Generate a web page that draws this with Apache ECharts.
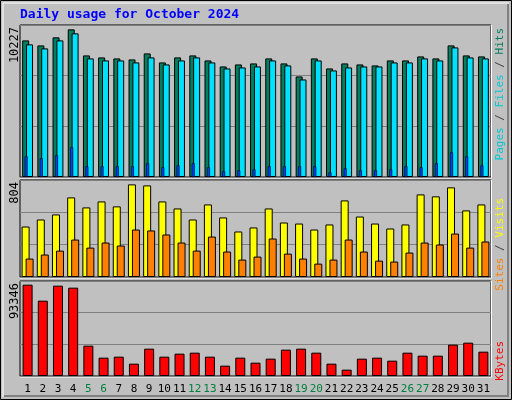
<!DOCTYPE html>
<html>
<head>
<meta charset="utf-8">
<script src="https://cdn.jsdelivr.net/npm/echarts@6/dist/echarts.min.js"></script>
<style>html,body{margin:0;padding:0;background:#c0c0c0}#chart{width:512px;height:400px}</style>
</head>
<body>
<div id="chart"></div>
<script>
const days = ['1','2','3','4','5','6','7','8','9','10','11','12','13','14','15','16','17','18','19','20','21','22','23','24','25','26','27','28','29','30','31'];
const weekendDays = ['5','6','12','13','19','20','26','27'];
const hits = [9464,9117,9673,10227,8423,8284,8215,8145,8562,7937,8284,8423,8076,7659,7798,7868,8215,7868,6965,8215,7520,7868,7798,7729,8076,8076,8354,8215,9117,8423,8354];
const files = [9187,8909,9464,9950,8215,8076,8076,7937,8284,7798,8076,8284,7937,7520,7590,7659,8076,7729,6757,8076,7382,7590,7659,7659,7937,7937,8215,8076,8978,8284,8215];
const pages = [1435,1296,1504,2059,740,740,740,740,949,671,810,949,671,393,463,532,740,740,740,740,324,602,463,463,532,740,671,949,1712,1435,810];
const visits = [438,499,543,691,604,656,613,804,795,656,595,499,630,517,395,430,595,473,464,412,456,665,525,464,421,456,717,700,778,578,630];
const sites = [160,195,229,325,255,299,273,412,404,369,299,229,351,221,151,177,334,203,160,116,151,325,221,142,134,212,299,282,377,255,308];
const kbytes = [93346,76998,92324,90280,31003,18738,19761,12606,27937,19761,22827,23849,19761,10562,18738,13628,17716,26915,27937,23849,12606,6473,17716,18738,15672,23849,20782,20782,32026,34070,24871];

const font = '"DejaVu Sans Mono", monospace';
const panels = [
  {top: 25, height: 152, max: 10530, label: '10227'},
  {top: 180, height: 97, max: 842, label: '804'},
  {top: 281, height: 95, max: 97090, label: '93346'}
];
const chart = echarts.init(document.getElementById('chart'));

const grids = panels.map(p => ({left: 20, right: 21, top: p.top, height: p.height,
  show: true, borderColor: '#000', borderWidth: 1, backgroundColor: '#c0c0c0'}));
const xAxes = [];
panels.forEach((p, i) => {
  xAxes.push({type: 'category', data: days, gridIndex: i,
    axisLine: {show: false}, axisTick: {show: false},
    axisLabel: i === 2 ? {show: true, interval: 0, fontFamily: font, fontSize: 11, margin: 8,
      color: v => weekendDays.includes(v) ? '#008040' : '#000'} : {show: false}});
});
// extra category axis for the narrow pages bars
xAxes.push({type: 'category', data: days, gridIndex: 0, show: false});
const yAxes = panels.map((p, i) => ({type: 'value', gridIndex: i, min: 0, max: p.max,
  interval: p.max / 3, axisLabel: {show: false}, axisLine: {show: false}, axisTick: {show: false},
  splitLine: {show: true, lineStyle: {color: '#808080', width: 1}}}));

const bordered = c => ({color: c, borderColor: '#000', borderWidth: 1});
const series = [
  {type: 'bar', name: 'Hits', data: hits, xAxisIndex: 0, yAxisIndex: 0, barWidth: 7, barGap: '-45%', itemStyle: bordered('#008060'), z: 2},
  {type: 'bar', name: 'Files', data: files, xAxisIndex: 0, yAxisIndex: 0, barWidth: 7, itemStyle: bordered('#00e0ff'), z: 3},
  {type: 'bar', name: 'Pages', data: pages, xAxisIndex: 3, yAxisIndex: 0, barWidth: 3, barGap: '0%', itemStyle: {color: '#0040ff', borderColor: '#000', borderWidth: 0.6}, z: 10},
  {type: 'bar', name: 'pad', data: pages.map(() => 0), xAxisIndex: 3, yAxisIndex: 0, barWidth: 3, itemStyle: {color: 'transparent'}, silent: true},
  {type: 'bar', name: 'Visits', data: visits, xAxisIndex: 1, yAxisIndex: 1, barWidth: 8, barGap: '-50%', itemStyle: bordered('#ffff00'), z: 2},
  {type: 'bar', name: 'Sites', data: sites, xAxisIndex: 1, yAxisIndex: 1, barWidth: 8, itemStyle: bordered('#ff8000'), z: 3},
  {type: 'bar', name: 'KBytes', data: kbytes, xAxisIndex: 2, yAxisIndex: 2, barWidth: 10, itemStyle: bordered('#ff0000')}
];

const sideLabel = (x, y, rich, text) => ({type: 'text', x: x, y: y, rotation: Math.PI / 2,
  style: {text: text, rich: rich, font: '11px ' + font, align: 'right', verticalAlign: 'middle'}});
const rich = {
  c: {fill: '#00c8d8', font: '11px ' + font}, s: {fill: '#404040', font: '11px ' + font},
  g: {fill: '#008060', font: '11px ' + font}, o: {fill: '#ff8000', font: '11px ' + font},
  y: {fill: '#ffff00', font: '11px ' + font}, r: {fill: '#ff0000', font: '11px ' + font}
};
const graphic = [
  {type: 'rect', shape: {x: 0.5, y: 0.5, width: 511, height: 399}, style: {fill: 'none', stroke: '#000', lineWidth: 1}, z: -10},
  {type: 'polyline', shape: {points: [[3, 397], [3, 3], [509, 3]]}, style: {stroke: '#fff', lineWidth: 1, fill: 'none'}},
  {type: 'polyline', shape: {points: [[4, 396], [508, 396], [508, 4]]}, style: {stroke: '#808080', lineWidth: 2, fill: 'none'}},
  {type: 'text', x: 20, y: 8, style: {text: 'Daily usage for October 2024', fill: '#0000ff', font: 'bold 13px ' + font}},
  sideLabel(500, 28, rich, '{c|Pages} {s|/} {c|Files} {s|/} {g|Hits}'),
  sideLabel(500, 198, rich, '{o|Sites} {s|/} {y|Visits}'),
  sideLabel(500, 341, rich, '{r|KBytes}')
];
panels.forEach(p => {
  graphic.push({type: 'text', x: 15, y: p.top + 2, rotation: Math.PI / 2,
    style: {text: p.label, fill: '#000', font: '12px ' + font, align: 'right', verticalAlign: 'middle'}});
  graphic.push({type: 'polyline', shape: {points: [[20, p.top + p.height + 1], [491.5, p.top + p.height + 1], [491.5, p.top]]},
    style: {stroke: '#fff', lineWidth: 1, fill: 'none'}});
});

chart.setOption({
  animation: false,
  backgroundColor: '#c0c0c0',
  grid: grids,
  xAxis: xAxes,
  yAxis: yAxes,
  series: series,
  graphic: graphic
});
</script>
</body>
</html>
